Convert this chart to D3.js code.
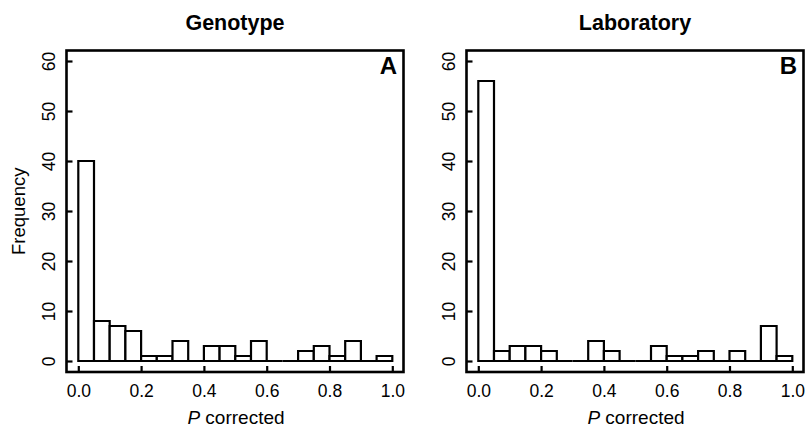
<!DOCTYPE html>
<html>
<head>
<meta charset="utf-8">
<script src="https://cdn.jsdelivr.net/npm/d3@7"></script>
<style>
  html, body { margin: 0; padding: 0; background: #fff; }
  svg text { font-family: "Liberation Sans", Arial, Helvetica, sans-serif; fill: #000; }
</style>
</head>
<body>
<svg id="chart" width="806" height="428"></svg>
<script>
// Histogram bins: 20 bins of width 0.05 on [0, 1]
const binEdges = d3.range(0, 20).map(i => i * 0.05);
const binWidth = 0.05;

// Counts per bin
const genotypeCounts   = [40, 8, 7, 6, 1, 1, 4, 0, 3, 3, 1, 4, 0, 0, 2, 3, 1, 4, 0, 1];
const laboratoryCounts = [56, 2, 3, 3, 2, 0, 0, 4, 2, 0, 0, 3, 1, 1, 2, 0, 2, 0, 7, 1];

const xTicks = [0, 0.2, 0.4, 0.6, 0.8, 1.0];
const yTicks = [0, 10, 20, 30, 40, 50, 60];

const panels = [
  { title: "Genotype",   tag: "A", counts: genotypeCounts,   offset: 0,   yLabel: true },
  { title: "Laboratory", tag: "B", counts: laboratoryCounts, offset: 400, yLabel: false }
];

const svg = d3.select("#chart");

const box = { left: 66.5, right: 403.5, top: 50.5, bottom: 372 };
const lw = 2.2;

panels.forEach(p => {
  const g = svg.append("g").attr("transform", `translate(${p.offset},0)`);

  const x = d3.scaleLinear().domain([0, 1]).range([78.3, 392.3]);
  const y = d3.scaleLinear().domain([0, 60]).range([361, 61]);

  // Bars (zero-count bins collapse to a line on the baseline)
  g.selectAll("path.bar")
    .data(binEdges.map((b, i) => ({ x0: b, x1: b + binWidth, n: p.counts[i] })))
    .join("path")
    .attr("class", "bar")
    .attr("d", d => {
      const p0 = d3.path();
      p0.moveTo(x(d.x0), y(0));
      p0.lineTo(x(d.x0), y(d.n));
      p0.lineTo(x(d.x1), y(d.n));
      p0.lineTo(x(d.x1), y(0));
      p0.closePath();
      return p0.toString();
    })
    .attr("fill", "#fff")
    .attr("stroke", "#000")
    .attr("stroke-width", lw)
    .attr("stroke-linejoin", "miter");

  // Plot frame
  g.append("rect")
    .attr("x", box.left).attr("y", box.top)
    .attr("width", box.right - box.left).attr("height", box.bottom - box.top)
    .attr("fill", "none").attr("stroke", "#000").attr("stroke-width", lw + 0.4);

  // Bottom axis: inward ticks
  const xAxis = d3.axisBottom(x).tickValues(xTicks).tickSize(-6).tickFormat(d3.format(".1f")).tickSizeOuter(0);
  const xa = g.append("g").attr("transform", `translate(0,${box.bottom})`).call(xAxis);
  xa.select(".domain").remove();
  xa.selectAll(".tick line").attr("stroke", "#000").attr("stroke-width", lw);
  xa.selectAll(".tick text")
    .attr("y", 25).attr("dy", 0)
    .style("font-size", "17.5px")
    .style("font-family", "'Liberation Sans', Arial, sans-serif");

  // Left axis: inward ticks, rotated labels
  const yAxis = d3.axisLeft(y).tickValues(yTicks).tickSize(-6).tickSizeOuter(0);
  const ya = g.append("g").attr("transform", `translate(${box.left},0)`).call(yAxis);
  ya.select(".domain").remove();
  ya.selectAll(".tick line").attr("stroke", "#000").attr("stroke-width", lw);
  ya.selectAll(".tick text")
    .attr("x", null).attr("dy", null)
    .attr("text-anchor", "middle")
    .attr("transform", "translate(-11.5,0) rotate(-90)")
    .style("font-size", "17.5px")
    .style("font-family", "'Liberation Sans', Arial, sans-serif");

  // Title
  g.append("text")
    .attr("x", (box.left + box.right) / 2).attr("y", 30)
    .attr("text-anchor", "middle")
    .style("font-size", "21.5px").style("font-weight", "bold")
    .text(p.title);

  // Panel tag
  g.append("text")
    .attr("x", 397).attr("y", 74)
    .attr("text-anchor", "end")
    .style("font-size", "24px").style("font-weight", "bold")
    .text(p.tag);

  // X axis title
  const xt = g.append("text")
    .attr("x", (box.left + box.right) / 2 + 1).attr("y", 424)
    .attr("text-anchor", "middle")
    .style("font-size", "19px");
  xt.append("tspan").style("font-style", "italic").text("P");
  xt.append("tspan").text(" corrected");

  if (p.yLabel) {
    g.append("text")
      .attr("transform", `translate(25,${(box.top + box.bottom) / 2}) rotate(-90)`)
      .attr("text-anchor", "middle")
      .style("font-size", "18.5px")
      .text("Frequency");
  }
});
</script>
</body>
</html>
